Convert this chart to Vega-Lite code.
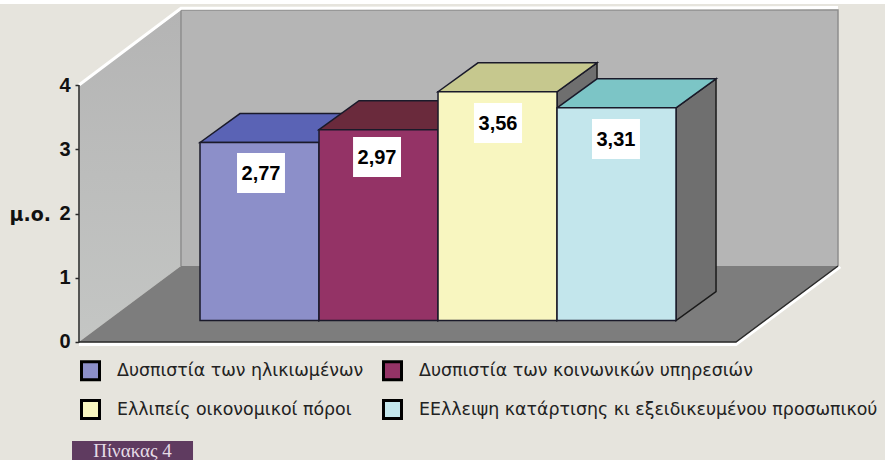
{
"$schema":"https://vega.github.io/schema/vega-lite/v6.json",
"width":885,"height":460,"padding":0,"autosize":{"type":"none"},
"background":"#E6E4DD",
"config":{"view":{"stroke":null}},
"datasets":{
"bars":[
{"category":"Δυσπιστία των ηλικιωμένων","value":2.77,"label":"2,77","u0":0,"u1":1,"base":0,"boxL":0.311,"boxR":0.714,"boxT":2.607,"boxB":1.984,"labelU":0.5125,"labelV":2.285},
{"category":"Δυσπιστία των κοινωνικών υπηρεσιών","value":2.97,"label":"2,97","u0":1,"u1":2,"base":0,"boxL":1.286,"boxR":1.689,"boxT":2.856,"boxB":2.233,"labelU":1.4875,"labelV":2.534},
{"category":"Ελλιπείς οικονομικοί πόροι","value":3.56,"label":"3,56","u0":2,"u1":3,"base":0,"boxL":2.302,"boxR":2.706,"boxT":3.385,"boxB":2.763,"labelU":2.504,"labelV":3.063},
{"category":"ΕΕλλειψη κατάρτισης κι εξειδικευμένου προσωπικού","value":3.31,"label":"3,31","u0":3,"u1":4,"base":0,"boxL":3.294,"boxR":3.697,"boxT":3.136,"boxB":2.514,"labelU":3.495,"labelV":2.814}
],
"sides":[
{"category":"a","u":1,"hi":2.77,"lo":0},{"category":"a","u":1.336,"hi":3.221,"lo":0.451},
{"category":"b","u":2,"hi":2.97,"lo":0},{"category":"b","u":2.336,"hi":3.421,"lo":0.451},
{"category":"c","u":3,"hi":3.56,"lo":0},{"category":"c","u":3.336,"hi":4.011,"lo":0.451},
{"category":"d","u":4,"hi":3.31,"lo":0},{"category":"d","u":4.336,"hi":3.761,"lo":0.451}
],
"tops":[
{"category":"a","u":0,"hi":2.77,"lo":2.77},{"category":"a","u":0.336,"hi":3.221,"lo":2.77},{"category":"a","u":1,"hi":3.221,"lo":2.77},{"category":"a","u":1.336,"hi":3.221,"lo":3.221},
{"category":"b","u":1,"hi":2.97,"lo":2.97},{"category":"b","u":1.336,"hi":3.421,"lo":2.97},{"category":"b","u":2,"hi":3.421,"lo":2.97},{"category":"b","u":2.336,"hi":3.421,"lo":3.421},
{"category":"c","u":2,"hi":3.56,"lo":3.56},{"category":"c","u":2.336,"hi":4.011,"lo":3.56},{"category":"c","u":3,"hi":4.011,"lo":3.56},{"category":"c","u":3.336,"hi":4.011,"lo":4.011},
{"category":"d","u":3,"hi":3.31,"lo":3.31},{"category":"d","u":3.336,"hi":3.761,"lo":3.31},{"category":"d","u":4,"hi":3.761,"lo":3.31},{"category":"d","u":4.336,"hi":3.761,"lo":3.761}
],
"leftWall":[{"u":-1.017,"hi":4,"lo":0},{"u":-0.16,"hi":5.167,"lo":1.183}],
"floor":[{"u":-1.017,"hi":0,"lo":0},{"u":-0.16,"hi":1.183,"lo":0},{"u":4.504,"hi":1.183,"lo":0},{"u":5.361,"hi":1.183,"lo":1.183}],
"backWall":[{"u0":-0.16,"u1":5.361,"hi":5.167,"lo":1.183}],
"frame":[
{"edge":"white","order":1,"u":-1.017,"v":4},{"edge":"white","order":2,"u":-0.16,"v":5.195},{"edge":"white","order":3,"u":5.361,"v":5.205},
{"edge":"white2","order":1,"u":-1.017,"v":-0.04},{"edge":"white2","order":2,"u":4.504,"v":-0.04},{"edge":"white2","order":3,"u":5.38,"v":1.17},
{"edge":"dark","order":1,"u":-1.017,"v":0},{"edge":"dark","order":2,"u":4.504,"v":0},{"edge":"dark","order":3,"u":5.361,"v":1.183},
{"edge":"gray","order":1,"u":-0.16,"v":1.183},{"edge":"gray","order":2,"u":-0.16,"v":5.167},{"edge":"gray","order":3,"u":5.361,"v":5.167},{"edge":"gray","order":4,"u":5.361,"v":1.183}
],
"axisLine":[{"u":-1.017,"from":0,"to":4}],
"strip":[{"u0":-1.6807,"u1":5.756,"hi":5.323,"lo":5.261}],
"tag":[{"u0":-1.0756,"u1":-0.0588,"hi":-1.541,"lo":-1.8366,"u":-0.567,"v":-1.695,"text":"Πίνακας 4"}],
"title":[{"u":-1.6,"v":1.98,"text":"μ.ο."}]
},
"resolve":{"scale":{"y":"independent","color":"independent"}},
"layer":[
{"data":{"name":"strip"},"mark":{"type":"rect","fill":"#FFFFFF"},
 "encoding":{"x":{"field":"u0","type":"quantitative","axis":null,"scale":{"domain":[-1.6807,5.756],"nice":false,"zero":false}},"x2":{"field":"u1"},
 "y":{"field":"hi","type":"quantitative","axis":null,"scale":{"domain":[-1.8366,5.323],"nice":false,"zero":false}},"y2":{"field":"lo"}}},
{"data":{"name":"backWall"},"mark":{"type":"rect","fill":"#B5B5B5"},
 "encoding":{"x":{"field":"u0","type":"quantitative","axis":null,"scale":{"domain":[-1.6807,5.756],"nice":false,"zero":false}},"x2":{"field":"u1"},
 "y":{"field":"hi","type":"quantitative","axis":null,"scale":{"domain":[-1.8366,5.323],"nice":false,"zero":false}},"y2":{"field":"lo"}}},
{"data":{"name":"leftWall"},"mark":{"type":"area","fill":{"x1":0,"y1":0,"x2":0,"y2":1,"gradient":"linear","stops":[{"offset":0,"color":"#B4B4B4"},{"offset":1,"color":"#C4C6C4"}]}},
 "encoding":{"x":{"field":"u","type":"quantitative","axis":null,"scale":{"domain":[-1.6807,5.756],"nice":false,"zero":false}},
 "y":{"field":"hi","type":"quantitative","stack":null,"axis":null,"scale":{"domain":[-1.8366,5.323],"nice":false,"zero":false}},"y2":{"field":"lo"}}},
{"data":{"name":"floor"},"mark":{"type":"area","fill":"#7D7D7D"},
 "encoding":{"x":{"field":"u","type":"quantitative","axis":null,"scale":{"domain":[-1.6807,5.756],"nice":false,"zero":false}},
 "y":{"field":"hi","type":"quantitative","stack":null,"axis":null,"scale":{"domain":[-1.8366,5.323],"nice":false,"zero":false}},"y2":{"field":"lo"}}},
{"data":{"name":"frame"},"transform":[{"filter":"datum.edge==='gray'"}],"mark":{"type":"line","stroke":"#8E8E8E","strokeWidth":1.5},
 "encoding":{"x":{"field":"u","type":"quantitative","axis":null,"scale":{"domain":[-1.6807,5.756],"nice":false,"zero":false}},
 "y":{"field":"v","type":"quantitative","axis":null,"scale":{"domain":[-1.8366,5.323],"nice":false,"zero":false}},"order":{"field":"order"}}},
{"data":{"name":"frame"},"transform":[{"filter":"datum.edge==='white'"}],"mark":{"type":"line","stroke":"#FFFFFF","strokeWidth":3},
 "encoding":{"x":{"field":"u","type":"quantitative","axis":null,"scale":{"domain":[-1.6807,5.756],"nice":false,"zero":false}},
 "y":{"field":"v","type":"quantitative","axis":null,"scale":{"domain":[-1.8366,5.323],"nice":false,"zero":false}},"order":{"field":"order"}}},
{"data":{"name":"frame"},"transform":[{"filter":"datum.edge==='white2'"}],"mark":{"type":"line","stroke":"#FFFFFF","strokeWidth":3},
 "encoding":{"x":{"field":"u","type":"quantitative","axis":null,"scale":{"domain":[-1.6807,5.756],"nice":false,"zero":false}},
 "y":{"field":"v","type":"quantitative","axis":null,"scale":{"domain":[-1.8366,5.323],"nice":false,"zero":false}},"order":{"field":"order"}}},
{"data":{"name":"frame"},"transform":[{"filter":"datum.edge==='dark'"}],"mark":{"type":"line","stroke":"#2A2A2A","strokeWidth":1.5},
 "encoding":{"x":{"field":"u","type":"quantitative","axis":null,"scale":{"domain":[-1.6807,5.756],"nice":false,"zero":false}},
 "y":{"field":"v","type":"quantitative","axis":null,"scale":{"domain":[-1.8366,5.323],"nice":false,"zero":false}},"order":{"field":"order"}}},
{"data":{"name":"axisLine"},"mark":{"type":"rule","stroke":"#2A2A2A","strokeWidth":1.5},
 "encoding":{"x":{"field":"u","type":"quantitative","axis":null,"scale":{"domain":[-1.6807,5.756],"nice":false,"zero":false}},
 "y":{"field":"from","type":"quantitative","scale":{"domain":[-1.8366,5.323],"nice":false,"zero":false},
  "axis":{"orient":"left","offset":-79,"values":[0,1,2,3,4],"domain":false,"grid":false,"title":null,"tickSize":4,"tickColor":"#2A2A2A","tickWidth":1.5,"labelPadding":5,"labelFont":"Liberation Sans","labelFontWeight":"bold","labelFontSize":20,"labelColor":"#111111","format":"d"}},"y2":{"field":"to"}}},
{"data":{"name":"title"},"mark":{"type":"text","align":"left","baseline":"middle","font":"DejaVu Sans","fontWeight":"bold","fontSize":19,"fill":"#111111"},
 "encoding":{"x":{"field":"u","type":"quantitative","axis":null,"scale":{"domain":[-1.6807,5.756],"nice":false,"zero":false}},
 "y":{"field":"v","type":"quantitative","axis":null,"scale":{"domain":[-1.8366,5.323],"nice":false,"zero":false}},"text":{"field":"text"}}},
{"data":{"name":"sides"},"mark":{"type":"area","fill":"#6F6F6F","stroke":"#1A1A1A","strokeWidth":1.5},
 "encoding":{"x":{"field":"u","type":"quantitative","axis":null,"scale":{"domain":[-1.6807,5.756],"nice":false,"zero":false}},
 "y":{"field":"hi","type":"quantitative","stack":null,"axis":null,"scale":{"domain":[-2.171,4.988],"nice":false,"zero":false}},"y2":{"field":"lo"},"detail":{"field":"category"}}},
{"data":{"name":"tops"},"mark":{"type":"area","stroke":"#1A1A2A","strokeWidth":1.5},
 "encoding":{"x":{"field":"u","type":"quantitative","axis":null,"scale":{"domain":[-1.6807,5.756],"nice":false,"zero":false}},
 "y":{"field":"hi","type":"quantitative","stack":null,"axis":null,"scale":{"domain":[-2.171,4.988],"nice":false,"zero":false}},"y2":{"field":"lo"},
 "color":{"field":"category","type":"nominal","legend":null,"scale":{"domain":["a","b","c","d"],"range":["#5A63B5","#6A2A3C","#C6C88E","#7CC5C6"]}}}},
{"data":{"name":"bars"},"mark":{"type":"rect","stroke":"#1A1A2A","strokeWidth":1.5},
 "encoding":{"x":{"field":"u0","type":"quantitative","axis":null,"scale":{"domain":[-1.6807,5.756],"nice":false,"zero":false}},"x2":{"field":"u1"},
 "y":{"field":"value","type":"quantitative","axis":null,"scale":{"domain":[-2.171,4.988],"nice":false,"zero":false}},"y2":{"field":"base"},
 "color":{"field":"category","type":"nominal","sort":null,"scale":{"domain":["Δυσπιστία των ηλικιωμένων","Ελλιπείς οικονομικοί πόροι","Δυσπιστία των κοινωνικών υπηρεσιών","ΕΕλλειψη κατάρτισης κι εξειδικευμένου προσωπικού"],"range":["#8C8FC9","#F8F6C0","#943366","#C3E6EC"]},
  "legend":{"orient":"none","legendX":80,"legendY":360,"columns":2,"title":null,"symbolType":"square","symbolSize":324,"symbolStrokeColor":"#000000","symbolStrokeWidth":3,"symbolOpacity":1,"rowPadding":8,"columnPadding":13,"labelOffset":16,"labelFont":"DejaVu Sans","labelFontSize":17.4,"labelColor":"#222222","labelLimit":600}}}},
{"data":{"name":"bars"},"mark":{"type":"rect","fill":"#FFFFFF"},
 "encoding":{"x":{"field":"boxL","type":"quantitative","axis":null,"scale":{"domain":[-1.6807,5.756],"nice":false,"zero":false}},"x2":{"field":"boxR"},
 "y":{"field":"boxT","type":"quantitative","axis":null,"scale":{"domain":[-2.171,4.988],"nice":false,"zero":false}},"y2":{"field":"boxB"}}},
{"data":{"name":"bars"},"mark":{"type":"text","font":"Liberation Sans","fontWeight":"bold","fontSize":20,"fill":"#000000","baseline":"middle"},
 "encoding":{"x":{"field":"labelU","type":"quantitative","axis":null,"scale":{"domain":[-1.6807,5.756],"nice":false,"zero":false}},
 "y":{"field":"labelV","type":"quantitative","axis":null,"scale":{"domain":[-2.171,4.988],"nice":false,"zero":false}},"text":{"field":"label"}}},
{"data":{"name":"tag"},"mark":{"type":"rect","fill":"#5F3B60"},
 "encoding":{"x":{"field":"u0","type":"quantitative","axis":null,"scale":{"domain":[-1.6807,5.756],"nice":false,"zero":false}},"x2":{"field":"u1"},
 "y":{"field":"hi","type":"quantitative","axis":null,"scale":{"domain":[-1.8366,5.323],"nice":false,"zero":false}},"y2":{"field":"lo"}}},
{"data":{"name":"tag"},"mark":{"type":"text","font":"Liberation Serif","fontSize":19,"fill":"#E6DCE6","baseline":"middle"},
 "encoding":{"x":{"field":"u","type":"quantitative","axis":null,"scale":{"domain":[-1.6807,5.756],"nice":false,"zero":false}},
 "y":{"field":"v","type":"quantitative","axis":null,"scale":{"domain":[-1.8366,5.323],"nice":false,"zero":false}},"text":{"field":"text"}}}
]
}
